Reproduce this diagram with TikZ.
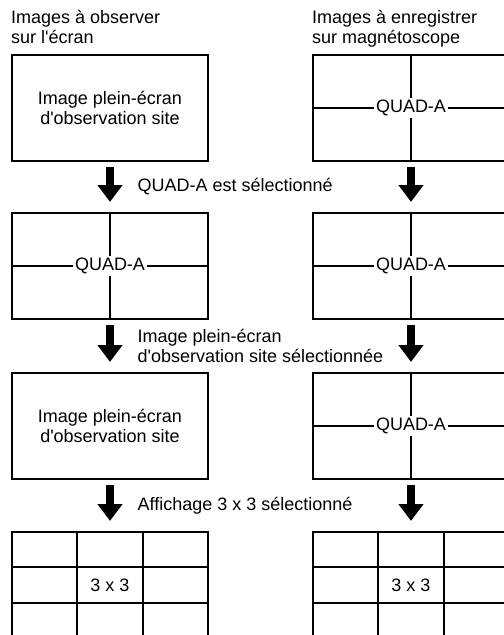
\documentclass[tikz,border=0pt]{standalone}
\usepackage{fontspec}
\setmainfont{Liberation Sans}
\usetikzlibrary{arrows.meta,positioning,calc}

\begin{document}
\begin{tikzpicture}[
  font=\fontsize{12.8pt}{14.2pt}\selectfont,
  screen/.style={draw, line width=1.6pt, minimum width=4.9cm, minimum height=2.65cm, inner sep=0pt, align=center},
  split/.style={line width=0.9pt},
  tag/.style={fill=white, inner sep=1.5pt},
  bigarrow/.style={line width=0.18cm, -{Triangle[width=0.6cm,length=0.42cm]}, shorten <=0.12cm, shorten >=0.25cm},
  choice/.style={align=left, inner sep=0pt},
  head/.style={align=left, inner sep=0pt, text depth=0pt}
]
\useasboundingbox (0,0) rectangle (12.575,-15.875);

% left column: what is seen on the monitor
\node[screen] (obs1) at (2.75,-2.7)    {Image plein-écran\\d\textquotesingle observation site};
\node[screen] (obs2) at (2.75,-6.65)   {};
\node[screen] (obs3) at (2.75,-10.65)  {Image plein-écran\\d\textquotesingle observation site};
\node[screen] (obs4) at (2.75,-14.625) {3 x 3};
% right column: what goes to the VCR
\node[screen] (rec1) at (10.275,-2.7)    {};
\node[screen] (rec2) at (10.275,-6.65)   {};
\node[screen] (rec3) at (10.275,-10.65)  {};
\node[screen] (rec4) at (10.275,-14.625) {3 x 3};

% column titles
\node[head, above right=0.25cm and 0cm of obs1.north west] (hobs) {Images à observer\\sur l\textquotesingle écran};
\node[head, above right=0.25cm and 0cm of rec1.north west] (hrec) {Images à enregistrer\\sur magnétoscope};

% quad split screens
\foreach \s in {obs2,rec1,rec2,rec3} {
  \draw[split] (\s.north) -- (\s.south) (\s.west) -- (\s.east);
  \node[tag] (q-\s) at (\s) {QUAD-A};
}

% 3x3 grids
\foreach \g in {obs4,rec4} {
  \foreach \f in {1/3,2/3} {
    \draw[split] ($(\g.north west)!\f!(\g.north east)$) -- ($(\g.south west)!\f!(\g.south east)$);
    \draw[split] ($(\g.north west)!\f!(\g.south west)$) -- ($(\g.north east)!\f!(\g.south east)$);
  }
}

% steps
\draw[bigarrow] (obs1) -- node[choice, right=0.6cm] {QUAD-A est sélectionné} (obs2);
\draw[bigarrow] (obs2) -- node[choice, right=0.6cm] {Image plein-écran\\d\textquotesingle observation site sélectionnée} (obs3);
\draw[bigarrow] (obs3) -- node[choice, right=0.6cm] {Affichage 3 x 3 sélectionné} (obs4);
\draw[bigarrow] (rec1) -- (rec2);
\draw[bigarrow] (rec2) -- (rec3);
\draw[bigarrow] (rec3) -- (rec4);
\end{tikzpicture}
\end{document}
